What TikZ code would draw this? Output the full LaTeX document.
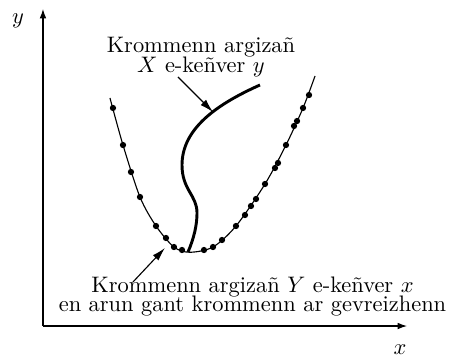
\documentclass[tikz,border=0pt]{standalone}
\usetikzlibrary{arrows.meta}
\begin{document}
\begin{tikzpicture}[
  axis/.style={-{Latex[length=4.2pt,width=3pt]}, line width=0.5pt},
  pointer/.style={-{Latex[length=6pt,width=3.4pt]}, line width=0.5pt},
  dot/.style={fill, circle, inner sep=0pt, minimum size=2.8pt}]
\useasboundingbox (-0.673,-0.532) rectangle (6.358,5.105);
% axes
\coordinate (o) at (0,0);
\coordinate (ytop) at (0,4.964);
\coordinate (xend) at (5.700,0);
\draw[axis] (o) -- (ytop);
\draw[axis] (o) -- (xend);
\node (ylab) at (-0.392,4.776) {$y$};
\node (xlab) at (5.591,-0.376) {$x$};
% regression of Y on x
\draw[line width=0.5pt] plot[smooth] coordinates {(1.049,3.571) (1.253,2.834) (1.519,2.020)
  (1.770,1.566) (2.051,1.237) (2.300,1.155) (2.662,1.237) (3.022,1.566) (3.477,2.224)
  (3.805,2.834) (4.072,3.414) (4.260,3.915)};
\foreach \px/\py [count=\i] in {1.096/3.414, 1.253/2.834, 1.378/2.412, 1.519/2.020,
  1.770/1.566, 1.926/1.378, 2.051/1.237, 2.177/1.190, 2.521/1.190, 2.662/1.237,
  2.803/1.347, 3.022/1.566, 3.163/1.738, 3.257/1.879, 3.336/1.989, 3.477/2.224,
  3.633/2.474, 3.680/2.553, 3.805/2.834, 3.931/3.132, 3.978/3.210, 4.072/3.414,
  4.166/3.617}
  \node[dot] (p\i) at (\px,\py) {};
% regression of X on y
\draw[line width=1.3pt] (2.271,1.159) .. controls (2.365,1.378) and (2.412,1.582) .. (2.412,1.770)
  .. controls (2.412,2.051) and (2.177,2.130) .. (2.177,2.521)
  .. controls (2.177,3.100) and (2.740,3.480) .. (3.398,3.774);
% labels
\node[align=center] (xony) at (2.474,4.214) {Krommenn argizañ\\[-3.3pt]$X$ e-keñver $y$};
\node[align=center] (yonx) at (3.281,0.456) {Krommenn argizañ $Y$ e-keñver $x$\\[-3.5pt]en arun gant krommenn ar gevreizhenn};
\coordinate (xonystart) at (2.114,3.899);
\coordinate (xonytip) at (2.662,3.351);
\coordinate (yonxstart) at (1.409,0.689);
\coordinate (yonxtip) at (1.910,1.222);
\draw[pointer] (xonystart) -- (xonytip);
\draw[pointer] (yonxstart) -- (yonxtip);
\end{tikzpicture}
\end{document}
